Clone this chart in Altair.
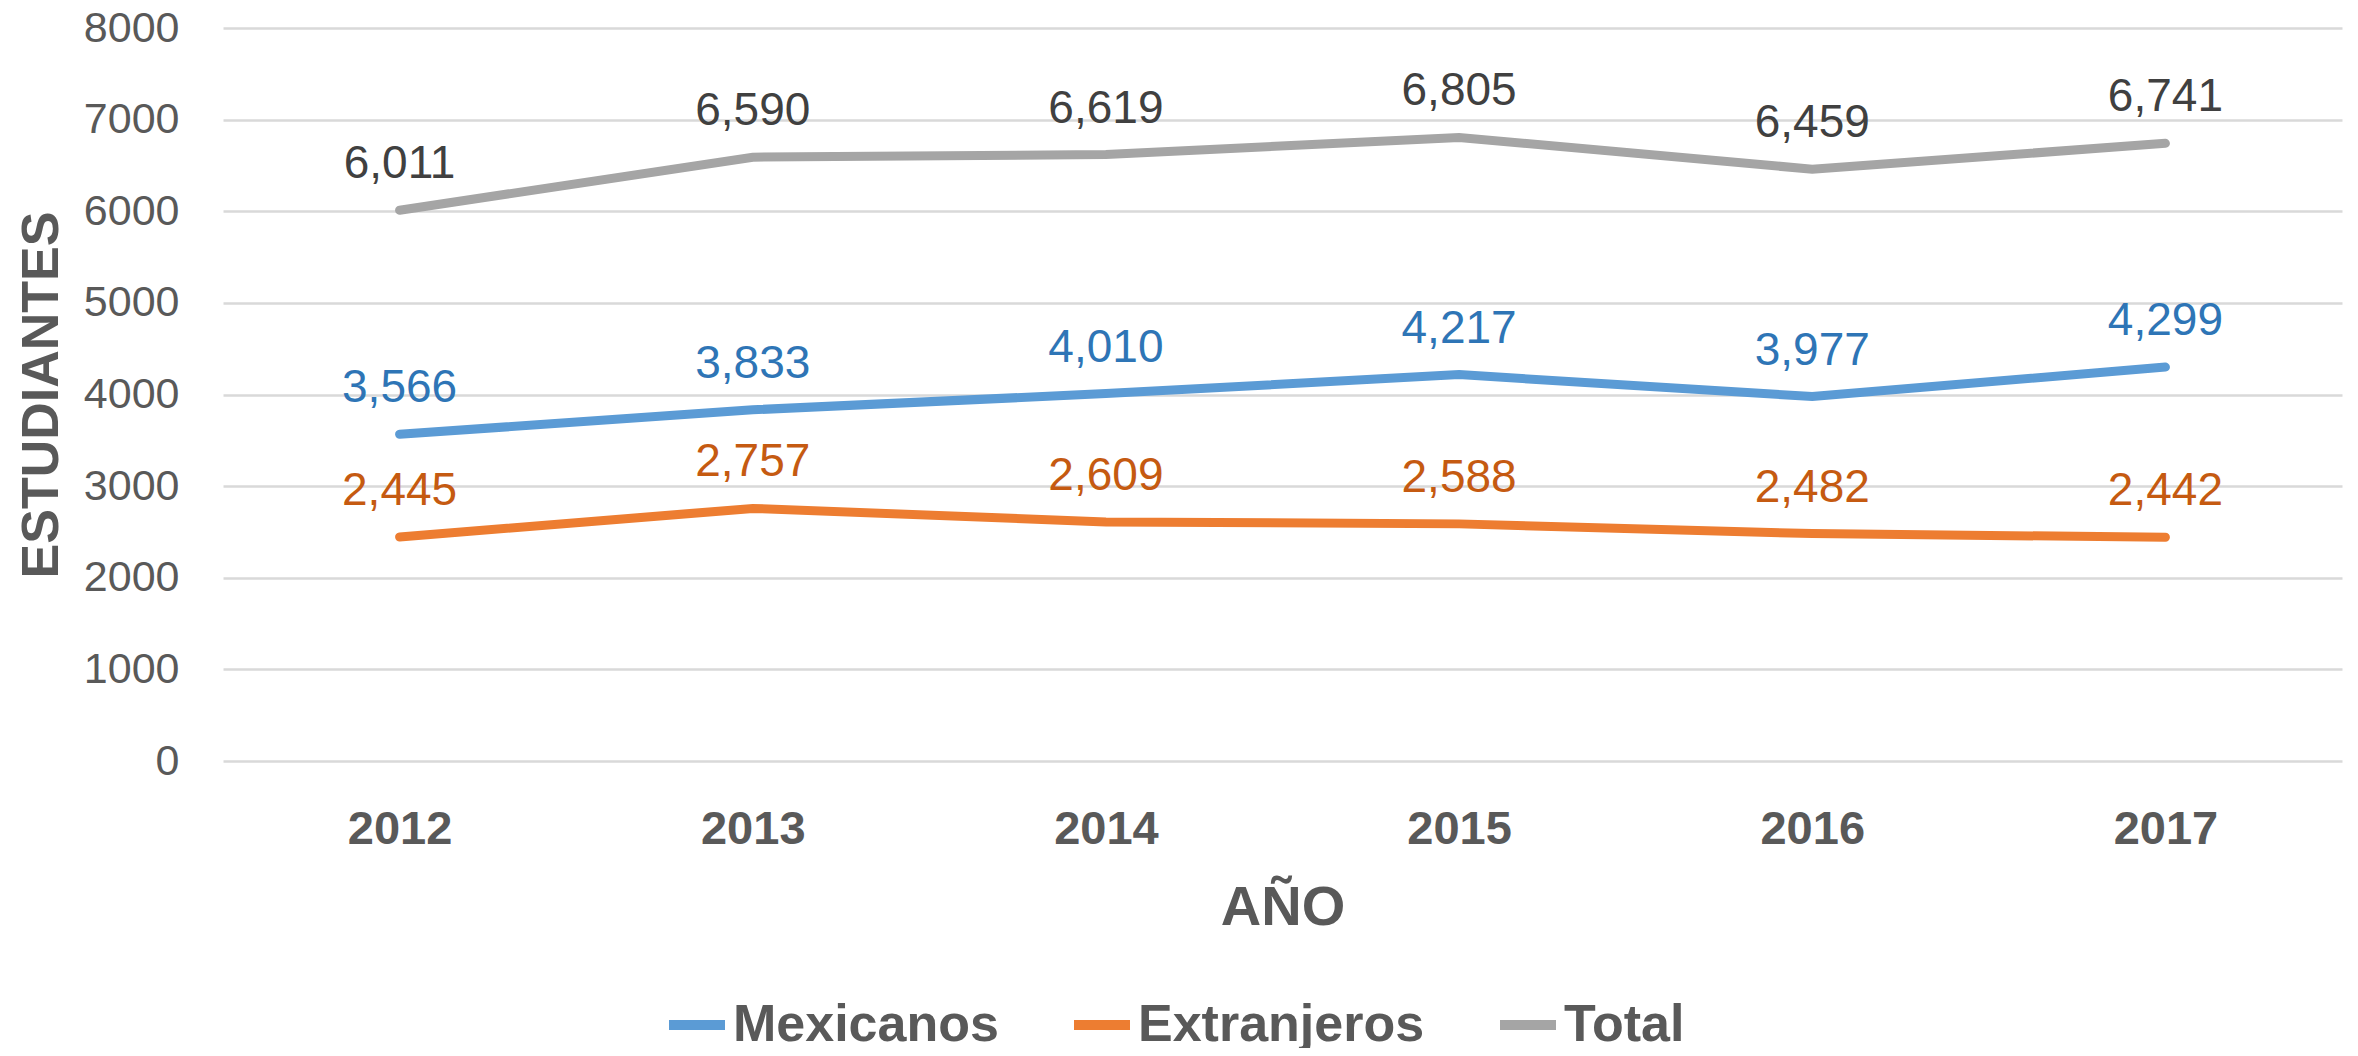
import altair as alt
import pandas as pd

years = ["2012", "2013", "2014", "2015", "2016", "2017"]
series_names = ["Mexicanos", "Extranjeros", "Total"]
mexicanos = [3566, 3833, 4010, 4217, 3977, 4299]
extranjeros = [2445, 2757, 2609, 2588, 2482, 2442]
total = [6011, 6590, 6619, 6805, 6459, 6741]
y_ticks = [0, 1000, 2000, 3000, 4000, 5000, 6000, 7000, 8000]

line_colors = ["#5B9BD5", "#ED7D31", "#A5A5A5"]
label_colors = ["#2E75B6", "#C55A11", "#404040"]

rows = []
for name, vals in zip(series_names, [mexicanos, extranjeros, total]):
    for yr, v in zip(years, vals):
        rows.append({"year": yr, "serie": name, "value": v})
df = pd.DataFrame(rows)

FONT = "Liberation Sans"
GRAY = "#595959"
W, H = 2119, 733

x_enc = alt.X(
    "year:O",
    scale=alt.Scale(domain=years, padding=0.5),
    axis=alt.Axis(
        title="AÑO",
        labelAngle=0,
        labelFont=FONT,
        labelFontSize=47,
        labelFontWeight="bold",
        labelColor=GRAY,
        labelPadding=45,
        ticks=False,
        domain=False,
        grid=False,
        titleFont=FONT,
        titleFontSize=56,
        titleFontWeight="bold",
        titleColor=GRAY,
        titleX=W / 2,
        titleY=163,
        titleAlign="center",
        titleBaseline="alphabetic",
    ),
)
y_enc = alt.Y(
    "value:Q",
    scale=alt.Scale(domain=[0, 8000], nice=False),
    axis=alt.Axis(
        title="ESTUDIANTES",
        values=y_ticks,
        format="d",
        labelFont=FONT,
        labelFontSize=43,
        labelColor=GRAY,
        labelPadding=44,
        ticks=False,
        domain=False,
        grid=True,
        gridColor="#D9D9D9",
        gridWidth=2.5,
        titleFont=FONT,
        titleFontSize=52,
        titleFontWeight="bold",
        titleColor=GRAY,
        titleAngle=-90,
        titleX=-166,
        titleY=H / 2,
        titleAlign="center",
        titleBaseline="alphabetic",
    ),
)

lines = alt.Chart(df).mark_line(strokeWidth=9, strokeCap="round", strokeJoin="miter").encode(
    x=x_enc,
    y=y_enc,
    color=alt.Color(
        "serie:N",
        scale=alt.Scale(domain=series_names, range=line_colors),
        sort=series_names,
        legend=alt.Legend(
            title=None,
            orient="none",
            direction="horizontal",
            legendX=441,
            legendY=964,
            symbolType="stroke",
            symbolSize=3136,
            symbolStrokeWidth=10,
            labelFont=FONT,
            labelFontSize=52,
            labelFontWeight="bold",
            labelColor=GRAY,
            labelOffset=3,
            columnPadding=55,
            padding=0,
            labelLimit=600,
        ),
    ),
)

labels = alt.Chart(df).mark_text(
    font=FONT, fontSize=46, baseline="alphabetic", align="center", dy=-32
).encode(
    x=alt.X("year:O", scale=alt.Scale(domain=years, padding=0.5)),
    y=alt.Y("value:Q", scale=alt.Scale(domain=[0, 8000], nice=False)),
    text=alt.Text("value:Q", format=",d"),
    color=alt.Color(
        "serie:N",
        scale=alt.Scale(domain=series_names, range=label_colors),
        legend=None,
    ),
)

chart = (
    alt.layer(lines, labels)
    .resolve_scale(color="independent")
    .properties(
        width=W,
        height=H,
        autosize=alt.AutoSizeParams(type="none"),
        padding={"left": 215, "top": 20, "right": 8, "bottom": 287},
        background="white",
    )
    .configure_view(stroke=None)
)

chart.save("out.html", embed_options={"renderer": "svg", "actions": False})
